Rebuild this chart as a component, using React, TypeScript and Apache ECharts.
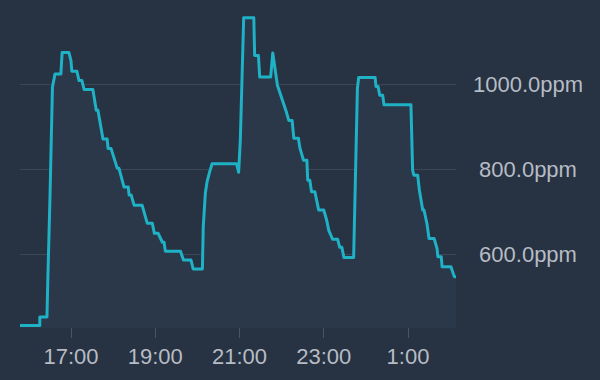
import React, { useEffect, useRef } from "react";
import * as echarts from "echarts";

// Time in decimal hours (25 = 1:00 next day), CO2 in ppm
const hours = [
  15.79, 16.26, 16.26, 16.43, 16.45, 16.5, 16.56, 16.62, 16.76, 16.79, 16.95, 17.0, 17.02, 17.14, 17.19, 17.26,
  17.31, 17.52, 17.6, 17.64, 17.76, 17.86, 17.88, 17.95, 18.1, 18.14, 18.26, 18.36, 18.38, 18.43, 18.5, 18.69,
  18.81, 18.93, 18.98, 19.07, 19.17, 19.21, 19.24, 19.6, 19.67, 19.85, 19.9, 20.12, 20.14, 20.19, 20.23, 20.29,
  20.35, 20.93, 20.98, 21.02, 21.1, 21.34, 21.36, 21.45, 21.48, 21.74, 21.79, 21.9, 22.1, 22.17,
  22.25, 22.29, 22.4, 22.43, 22.52, 22.6, 22.62, 22.67, 22.71, 22.79, 22.88, 23.0, 23.07, 23.12, 23.21, 23.33,
  23.38, 23.43, 23.48, 23.64, 23.71, 23.76, 23.8, 23.83, 24.22, 24.24, 24.29, 24.33, 24.4, 24.43, 25.07, 25.11,
  25.14, 25.23, 25.27, 25.35, 25.38, 25.45, 25.5, 25.62, 25.69, 25.71, 25.79, 25.81, 26.02, 26.1, 26.14,
];
const ppm = [
  432, 432, 452, 452, 539, 727, 993, 1024, 1024, 1075, 1075, 1056, 1031, 1031, 1009, 1009,
  988, 988, 939, 939, 871, 871, 849, 849, 802, 802, 758, 758, 739, 739, 715, 715,
  673, 673, 649, 649, 628, 628, 607, 607, 586, 586, 565, 565, 664, 744, 770, 793,
  813, 813, 793, 868, 1157, 1157, 1068, 1068, 1017, 1017, 1074, 998, 939, 915,
  915, 873, 873, 852, 821, 821, 774, 774, 747, 747, 704, 704, 680, 656, 635, 635,
  616, 616, 592, 592, 592, 814, 991, 1016, 1016, 995, 995, 974, 974, 952, 952, 798,
  786, 786, 751, 704, 704, 672, 637, 637, 613, 594, 594, 570, 570, 547, 547,
];
const xTickHours = [17, 19, 21, 23, 25];
const yTickValues = [600, 800, 1000];

export default function App() {
  const ref = useRef<HTMLDivElement>(null);
  useEffect(() => {
    document.body.style.margin = "0";
    document.body.style.background = "#273242";
    const chart = echarts.init(ref.current!, null, { renderer: "svg" });
    const data = hours.map((h, i) => [h, ppm[i]]);
    chart.setOption({
      animation: false,
      backgroundColor: "#273242",
      grid: { left: 20, right: 144, top: 10, bottom: 52 },
      xAxis: {
        type: "value",
        min: 15.79,
        max: 26.14,
        axisLine: { show: false },
        splitLine: { show: false },
        axisTick: {
          show: true,
          customValues: xTickHours,
          length: 10,
          lineStyle: { color: "#4a5464", width: 1 },
        },
        axisLabel: {
          customValues: xTickHours,
          formatter: (v: number) => `${Math.round(v) % 24}:00`,
          color: "#b6bcc4",
          fontSize: 22,
          fontFamily: "Liberation Sans, Arial, sans-serif",
          margin: 17,
        },
      },
      yAxis: {
        type: "value",
        position: "right",
        min: 426,
        max: 1175,
        axisLine: { show: false },
        axisTick: { show: false, customValues: yTickValues },
        splitLine: { show: true, lineStyle: { color: "#3c4757", width: 1 } },
        axisLabel: {
          customValues: yTickValues,
          formatter: (v: number) => `${v.toFixed(1)}ppm`,
          color: "#b6bcc4",
          fontSize: 22,
          fontFamily: "Liberation Sans, Arial, sans-serif",
          align: "center",
          margin: 72,
        },
      },
      series: [
        {
          type: "line",
          data,
          showSymbol: false,
          symbol: "none",
          lineStyle: { color: "#1fb1c6", width: 3, join: "round" },
          areaStyle: { color: "#2a3849", opacity: 1, origin: "start" },
          z: 2,
        },
      ],
    });
    return () => chart.dispose();
  }, []);
  return <div ref={ref} style={{ width: 600, height: 380 }} />;
}
